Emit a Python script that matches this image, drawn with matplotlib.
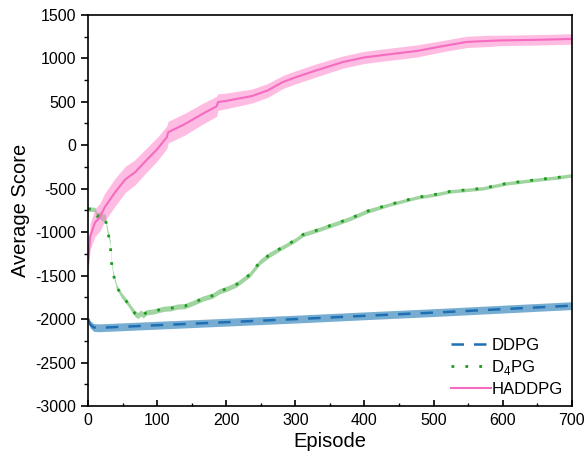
import numpy as np
import matplotlib.pyplot as plt

plt.rcParams['font.family'] = ['Liberation Sans', 'DejaVu Sans']
plt.rcParams['mathtext.fontset'] = 'custom'
plt.rcParams['mathtext.rm'] = 'Liberation Sans'
plt.rcParams['axes.unicode_minus'] = False

# DDPG
ddpg_ep = [0, 3, 8, 15, 100, 200, 300, 400, 500, 600, 700]
ddpg_val = [-2000, -2060, -2095, -2100, -2070, -2035, -2000, -1962, -1925, -1885, -1845]
ddpg_err = [30, 40, 45, 45, 45, 45, 45, 45, 45, 45, 45]

# D4PG
d4pg_ep = [0, 5, 10, 13, 17, 20, 25, 27, 32, 34, 36, 41, 48, 56, 62, 68, 72, 76, 80, 85,
           94, 100, 110, 120, 129, 140, 150, 166, 180, 190, 201, 215, 234, 249, 263, 280,
           300, 311, 330, 355, 380, 403, 437, 476, 500, 524, 571, 606, 630, 654, 680, 700]
d4pg_val = [-733, -735, -740, -819, -800, -830, -830, -946, -1119, -1353, -1465, -1622, -1720,
            -1800, -1870, -1936, -1960, -1930, -1950, -1920, -1913, -1900, -1880, -1875, -1856,
            -1850, -1820, -1764, -1730, -1680, -1650, -1600, -1488, -1340, -1257, -1180, -1090,
            -1027, -980, -911, -840, -761, -680, -600, -570, -531, -496, -438, -415, -392, -370, -346]
d4pg_err = [25, 25, 25, 40, 40, 40, 40, 30, 25, 25, 25, 25, 30, 30, 30, 35, 35, 35, 35, 30,
            30, 30, 30, 30, 30, 30, 30, 30, 30, 30, 30, 30, 30, 30, 30, 25,
            25, 25, 25, 25, 25, 25, 20, 20, 20, 20, 20, 20, 20, 20, 20, 20]

# HADDPG
had_ep = [0, 3, 10, 17, 24, 39, 54, 68, 83, 100, 114, 116, 140, 165, 186, 188, 200, 220, 237,
          260, 282, 300, 330, 369, 400, 430, 476, 510, 548, 580, 596, 650, 700]
had_val = [-1350, -1050, -890, -830, -715, -542, -392, -311, -185, -46, 92, 150, 242, 358,
           447, 496, 510, 540, 565, 630, 727, 780, 860, 957, 1010, 1040, 1084, 1135, 1188,
           1200, 1205, 1212, 1222]
had_err = [130, 150, 160, 160, 160, 160, 150, 145, 140, 135, 130, 125, 125, 120, 115, 95, 90,
           85, 80, 80, 75, 75, 75, 70, 70, 70, 70, 65, 65, 65, 60, 60, 60]

fig = plt.figure(figsize=(5.87, 4.62), dpi=100)
ax = fig.add_axes([0.150, 0.121, 0.824, 0.847])

def band(ax, x, y, e, col, alpha):
    x = np.array(x); y = np.array(y); e = np.array(e)
    ax.fill_between(x, y - e, y + e, color=col, alpha=alpha, linewidth=0)

band(ax, ddpg_ep, ddpg_val, ddpg_err, '#1f77b4', 0.6)
band(ax, d4pg_ep, d4pg_val, d4pg_err, '#2ca02c', 0.45)
band(ax, had_ep, had_val, had_err, '#ff7ac8', 0.5)

ax.plot(ddpg_ep, ddpg_val, color='#1f6fb4', ls=(0, (5, 4)), lw=1.8, label='DDPG')
ax.plot(d4pg_ep, d4pg_val, color='#1e9a1e', ls=(0, (1, 4)), lw=2.0, label='D$_\\mathregular{4}$PG')
ax.plot(had_ep, had_val, color='#f56bbf', lw=1.5, label='HADDPG')

ax.set_xlim(0, 700)
ax.set_ylim(-3000, 1500)
ax.set_xticks(np.arange(0, 701, 100))
ax.set_xticks(np.arange(0, 701, 50), minor=True)
ax.set_yticks(np.arange(-3000, 1501, 500))
ax.set_yticks(np.arange(-3000, 1501, 250), minor=True)
ax.tick_params(axis='x', which='major', length=4, width=1.2, labelsize=11.5, direction='in', pad=5)
ax.tick_params(axis='x', which='minor', length=2.5, width=1.0, direction='in')
ax.tick_params(axis='y', which='major', length=5, width=1.2, labelsize=11.5, direction='out')
ax.tick_params(axis='y', which='minor', length=3, width=1.0, direction='out')
for s in ax.spines.values():
    s.set_linewidth(1.2)

ax.set_xlabel('Episode', fontsize=14.5, labelpad=3)
ax.set_ylabel('Average Score', fontsize=14.5)

ax.legend(loc='lower right', frameon=False, fontsize=12, handlelength=2.4,
          handletextpad=0.0, labelspacing=0.3, borderaxespad=0.15)

fig.savefig('out.png', dpi=100)
